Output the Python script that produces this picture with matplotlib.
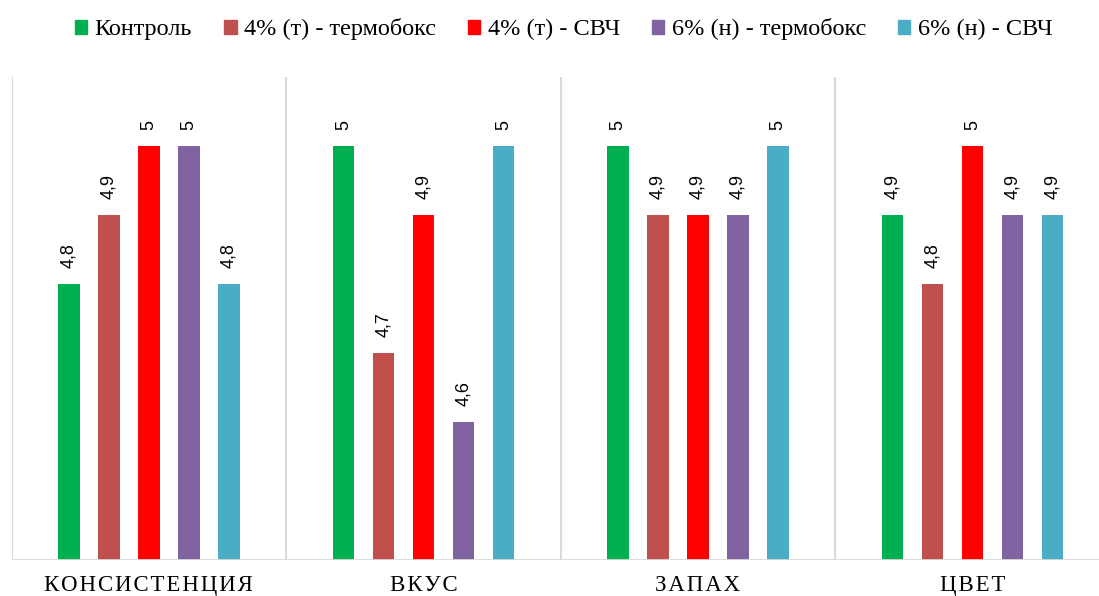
import numpy as np
import matplotlib.pyplot as plt
from matplotlib.patches import Patch

categories = ["КОНСИСТЕНЦИЯ", "ВКУС", "ЗАПАХ", "ЦВЕТ"]
series_names = ["Контроль", "4% (т) - термобокс", "4% (т) - СВЧ",
                "6% (н) - термобокс", "6% (н) - СВЧ"]
colors = ["#00b050", "#c0504d", "#ff0000", "#8064a2", "#4bacc6"]

control = [4.8, 5.0, 5.0, 4.9]
t4_thermo = [4.9, 4.7, 4.9, 4.8]
t4_mw = [5.0, 4.9, 4.9, 5.0]
n6_thermo = [5.0, 4.6, 4.9, 4.9]
n6_mw = [4.8, 5.0, 5.0, 4.9]
values = [control, t4_thermo, t4_mw, n6_thermo, n6_mw]

serif = ["Liberation Serif", "DejaVu Serif"]
sans = ["Liberation Sans", "DejaVu Sans"]

fig = plt.figure(figsize=(10.99, 5.96), dpi=100)
ax = fig.add_axes([0.0106, 0.0604, 0.999, 0.8104])

x = np.arange(len(categories))
step = 0.1457
width = 0.0783
base = 4.4
for i, (name, vals, c) in enumerate(zip(series_names, values, colors)):
    pos = x + (i - 2) * step
    h = np.array(vals) - base
    ax.bar(pos, h, width=width, bottom=base, color=c, zorder=3)
    for px, v in zip(pos, vals):
        ax.text(px, v + 0.023, f"{v:g}".replace(".", ","), rotation=90,
                ha="center", va="bottom", fontsize=13, family=sans,
                color="#000000")

ax.set_xlim(-0.5, len(categories) - 0.5)
ax.set_ylim(base, 5.1)
for b in np.arange(-0.5, len(categories), 1.0):
    ax.axvline(b, color="#d9d9d9", lw=1.5, zorder=1)
ax.axhline(base, color="#d9d9d9", lw=2, zorder=4)
for s in ax.spines.values():
    s.set_visible(False)
ax.set_yticks([])
ax.set_xticks(x)
ax.set_xticklabels(["\u200a".join(c) for c in categories], family=serif,
                   fontsize=16.5)
ax.tick_params(axis="x", length=0, pad=11)

handles = [Patch(color=c) for c in colors]
fig.legend(handles, series_names, loc="center", bbox_to_anchor=(0.513, 0.951),
           ncol=5, frameon=False, prop={"family": serif, "size": 17.5},
           handlelength=0.5, handleheight=0.5, handletextpad=0.3,
           columnspacing=1.33)

fig.savefig("out.png", dpi=100)
